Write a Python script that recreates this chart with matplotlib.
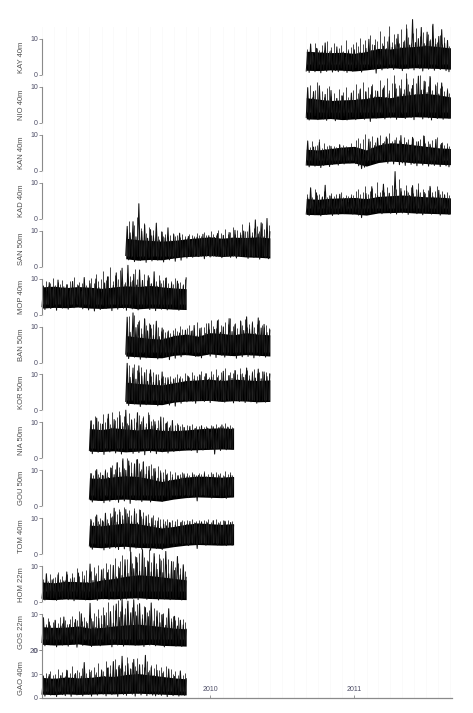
import numpy as np
import pandas as pd
import matplotlib
matplotlib.use("Agg")
import matplotlib.pyplot as plt
import matplotlib.dates as mdates

plt.rcParams["font.family"] = ["Liberation Sans", "DejaVu Sans"]

# station labels, top to bottom
labels = ["KAY 40m", "NIO 40m", "KAN 40m", "KAD 40m", "SAN 50m", "MOP 40m", "BAN 50m",
          "KOR 50m", "NIA 50m", "GOU 50m", "TOM 40m", "HOM 22m", "GOS 22m", "GAO 40m"]

# record periods (start, end)
periods = {
    "KAY 40m": ("2010-09-01", "2011-09-01"), "NIO 40m": ("2010-09-01", "2011-09-01"),
    "KAN 40m": ("2010-09-01", "2011-09-01"), "KAD 40m": ("2010-09-01", "2011-09-01"),
    "SAN 50m": ("2009-06-01", "2010-06-01"), "MOP 40m": ("2008-11-01", "2009-11-01"),
    "BAN 50m": ("2009-06-01", "2010-06-01"), "KOR 50m": ("2009-06-01", "2010-06-01"),
    "NIA 50m": ("2009-03-01", "2010-03-01"), "GOU 50m": ("2009-03-01", "2010-03-01"),
    "TOM 40m": ("2009-03-01", "2010-03-01"), "HOM 22m": ("2008-11-01", "2009-11-01"),
    "GOS 22m": ("2008-11-01", "2009-11-01"), "GAO 40m": ("2008-11-01", "2009-11-01"),
}

kay = [1.1,6.2, 0.7,8.6, 1.4,5.3, 0.9,7.4, 1.8,5.8, 0.6,6.4, 1.3,8.9, 1.0,5.1, 1.6,6.7, 0.8,5.6,
       1.2,7.8, 0.9,5.4, 1.9,6.1, 1.1,4.9, 0.7,6.5, 1.5,5.2, 1.0,7.0, 2.0,5.9, 1.3,6.3, 0.8,5.5,
       2.1,7.4, 1.7,9.9, 2.4,6.8, 1.6,8.2, 0.5,7.1, 2.2,6.5, 1.4,8.0, 2.6,7.3, 1.8,10.6, 2.3,7.7,
       1.5,8.4, 2.7,11.3, 1.9,7.6, 1.2,9.1, 2.4,12.8, 1.7,8.3, 2.1,15.4, 1.4,9.0, 2.5,10.1, 1.8,13.2,
       1.1,8.7, 2.3,11.9, 1.6,9.4, 2.0,14.1, 1.3,8.5, 2.6,10.7, 1.5,12.6, 1.9,8.8, 1.2,9.6, 0.9,7.2]
nio = [1.5,9.8, 0.8,6.4, 1.2,8.7, 2.0,6.0, 0.9,10.3, 1.6,5.7, 1.1,7.9, 0.7,6.2, 1.8,9.0, 1.3,5.4,
       0.6,6.8, 1.4,5.1, 1.0,7.5, 1.9,5.6, 0.8,6.0, 1.2,8.3, 1.7,5.9, 0.9,6.6, 1.5,9.2, 2.2,6.4,
       1.0,8.6, 1.8,6.9, 0.4,10.1, 2.1,7.2, 1.3,8.8, 1.7,6.5, 2.4,9.7, 1.1,7.0, 1.9,8.1, 1.4,6.7,
       2.2,10.8, 1.0,7.4, 1.6,9.5, 2.5,8.0, 1.2,12.2, 2.0,8.6, 1.5,10.4, 0.9,7.8, 2.3,13.0, 1.7,9.1,
       1.1,11.6, 2.0,8.4, 1.4,12.9, 0.8,7.5, 1.9,10.2, 1.2,8.0, 2.2,11.1, 1.0,7.3, 1.6,9.0, 1.3,6.8]
kan = [1.6,8.3, 1.1,5.2, 2.0,6.6, 1.3,4.8, 1.7,7.9, 0.9,5.0, 1.5,5.9, 2.1,4.7, 1.2,6.8, 1.8,5.3,
       2.3,5.6, 1.6,7.2, 2.5,5.8, 1.9,6.1, 2.6,5.5, 2.2,6.4, 2.8,5.9, 2.0,6.2, 1.4,5.0, 0.6,4.6,
       1.0,5.4, 2.4,8.8, 1.8,6.3, 2.9,7.0, 2.3,9.1, 3.0,6.8, 2.5,7.6, 3.2,9.4, 2.1,6.9, 2.7,7.3,
       1.9,8.5, 2.6,6.7, 1.7,9.8, 2.2,6.4, 1.5,7.8, 2.4,6.9, 1.8,9.3, 2.0,6.2, 1.4,8.1, 2.3,6.6,
       1.6,9.6, 2.1,6.3, 1.3,7.4, 1.9,6.0, 1.5,8.7, 2.2,5.8, 1.2,7.6, 1.8,5.5, 1.4,6.4, 1.1,5.3]
kad = [1.3,5.8, 0.9,8.6, 1.6,4.7, 1.1,7.2, 1.8,4.4, 0.8,5.9, 1.4,9.3, 1.2,4.6, 1.7,6.3, 0.9,4.9,
       1.5,5.4, 1.2,6.8, 1.9,4.8, 1.4,5.6, 2.1,4.5, 1.6,6.0, 1.3,4.9, 1.8,5.7, 1.0,4.6, 0.3,5.1,
       1.5,7.0, 1.9,5.3, 1.2,8.9, 2.0,5.6, 1.6,6.4, 2.2,5.2, 1.4,9.6, 1.8,5.8, 2.3,7.1, 1.5,5.5,
       2.0,13.1, 1.3,6.2, 1.9,8.4, 1.6,5.9, 2.1,7.7, 1.2,6.5, 1.7,9.2, 2.2,6.0, 1.4,8.0, 1.9,5.7,
       1.1,7.3, 1.6,5.6, 2.0,9.0, 1.3,6.1, 1.8,5.4, 1.5,7.9, 1.0,5.2, 1.7,6.6, 1.4,5.0, 1.2,4.8]
san = [3.1,11.2, 1.9,9.4, 2.6,12.5, 1.4,8.3, 2.8,17.5, 1.7,9.8, 2.3,11.6, 1.2,7.9, 2.5,10.3, 1.6,8.6,
       2.9,12.1, 1.8,7.4, 2.2,9.6, 1.3,8.0, 2.7,10.8, 1.9,7.2, 2.4,8.9, 1.5,6.8, 2.6,9.3, 1.8,7.0,
       3.0,7.6, 2.4,8.4, 3.3,7.1, 2.6,7.9, 3.5,8.2, 2.8,7.3, 3.1,9.0, 2.2,7.5, 3.4,8.6, 2.7,7.8,
       3.6,8.1, 2.9,9.2, 3.2,7.4, 2.5,8.7, 3.7,7.6, 3.0,9.5, 2.6,8.0, 3.3,10.1, 2.4,7.7, 3.1,8.8,
       2.8,9.9, 3.4,7.9, 2.3,11.4, 3.0,8.5, 2.6,13.0, 3.2,9.1, 2.1,12.2, 2.9,8.3, 2.5,13.4, 2.2,9.7]
mop = [2.2,7.8, 1.4,6.5, 2.8,8.9, 1.7,6.9, 2.5,7.4, 1.2,9.6, 2.9,6.8, 1.8,7.7, 2.4,8.3, 1.5,6.6,
       2.7,9.2, 1.9,7.1, 3.0,8.0, 2.1,6.4, 1.6,10.3, 2.6,7.3, 1.3,8.6, 2.3,6.9, 1.0,9.9, 2.0,7.5,
       1.4,6.2, 2.5,8.8, 1.7,10.5, 2.2,7.0, 1.1,8.1, 2.8,11.6, 1.5,7.6, 2.4,12.9, 1.8,8.3, 1.2,13.7,
       2.1,9.0, 1.6,11.2, 2.6,8.2, 1.3,12.4, 2.0,9.5, 1.7,7.7, 2.3,10.8, 1.4,8.5, 1.9,11.9, 1.1,7.9,
       2.2,9.4, 1.5,7.2, 2.0,10.1, 1.3,6.8, 1.8,8.6, 1.6,7.0, 2.1,9.3, 1.2,6.5, 1.7,8.0, 1.4,10.2]
ban = [2.3,12.6, 1.1,8.4, 2.7,13.8, 1.5,9.7, 2.0,11.2, 0.9,7.9, 2.5,12.1, 1.3,8.8, 2.1,10.4, 1.7,7.5,
       2.6,11.5, 1.0,7.2, 2.2,9.6, 1.4,6.8, 1.8,8.5, 0.8,6.4, 2.0,7.7, 1.2,6.9, 2.4,8.2, 1.6,7.3,
       2.8,9.0, 2.1,7.6, 3.0,8.7, 2.4,10.3, 1.7,7.4, 2.6,9.5, 1.3,6.9, 2.9,8.1, 2.2,10.8, 1.8,7.8,
       2.5,9.2, 1.4,11.6, 2.7,8.4, 2.0,9.9, 1.5,7.5, 2.3,12.2, 1.9,8.6, 2.8,10.5, 1.2,7.7, 2.4,11.4,
       1.6,8.9, 2.6,12.7, 1.7,9.3, 2.1,11.0, 1.3,8.0, 2.5,12.4, 1.8,9.6, 2.2,10.6, 1.5,8.3, 2.0,9.0]
kor = [2.5,13.1, 1.4,9.2, 2.9,11.8, 1.8,8.7, 2.2,12.4, 1.1,9.6, 2.7,10.5, 1.6,8.1, 2.4,11.3, 1.9,7.8,
       2.8,9.9, 1.3,8.3, 2.1,10.7, 1.7,7.5, 2.6,9.1, 1.5,7.9, 2.3,8.6, 1.2,7.2, 2.7,8.8, 2.0,7.6,
       3.0,8.3, 2.4,9.4, 3.2,7.9, 2.6,8.7, 2.0,7.5, 2.9,9.8, 3.3,8.1, 2.5,10.2, 3.1,8.6, 2.2,9.3,
       2.8,7.8, 3.4,9.1, 2.6,8.4, 3.0,10.9, 2.3,8.0, 3.2,9.7, 2.7,8.9, 2.1,11.1, 3.0,8.5, 2.5,10.0,
       2.9,9.2, 2.2,11.8, 3.1,8.7, 2.4,10.4, 2.8,9.0, 2.0,11.5, 2.6,8.8, 3.0,10.7, 2.3,9.4, 2.7,10.1]
nia = [2.2,10.4, 1.3,8.1, 2.6,11.2, 1.7,7.6, 2.0,9.5, 1.1,7.9, 2.4,12.3, 1.8,8.4, 2.7,10.8, 1.5,7.3,
       2.3,11.9, 1.2,8.8, 2.5,13.4, 1.9,9.1, 2.8,10.6, 1.4,8.2, 2.1,12.7, 1.6,9.4, 2.6,11.1, 1.0,8.6,
       2.4,12.0, 1.7,9.0, 2.9,10.2, 1.3,8.3, 2.2,11.5, 1.8,7.9, 2.6,9.8, 1.5,8.5, 2.3,10.5, 1.9,7.7,
       2.7,9.2, 2.1,7.4, 2.9,8.6, 2.4,7.2, 3.1,8.9, 2.2,7.6, 2.8,8.3, 1.6,7.1, 2.6,9.0, 2.3,7.5,
       3.0,8.4, 2.5,7.3, 3.2,8.8, 1.2,7.0, 2.7,8.5, 2.2,9.3, 3.0,7.8, 2.4,8.7, 2.9,7.6, 2.6,8.2]
gou = [2.0,9.1, 1.2,7.4, 2.5,10.2, 1.6,7.9, 2.2,8.6, 1.0,9.8, 2.7,8.0, 1.4,10.6, 2.3,8.8, 1.8,12.1,
       1.1,9.4, 2.6,13.2, 1.5,10.0, 2.1,12.6, 0.8,9.2, 2.4,11.8, 1.7,13.0, 2.0,9.6, 1.3,12.3, 2.5,8.9,
       1.9,11.1, 1.2,8.4, 2.3,10.5, 1.6,7.8, 2.0,9.3, 1.4,7.5, 2.6,8.7, 1.8,7.2, 2.2,8.0, 2.9,7.6,
       2.5,8.5, 3.1,7.9, 2.7,9.0, 3.3,8.2, 2.4,7.7, 3.0,8.8, 2.6,7.4, 1.5,8.6, 2.8,7.8, 3.2,9.1,
       2.7,8.0, 3.0,7.5, 2.3,8.9, 2.9,7.7, 3.1,8.4, 2.5,7.3, 2.8,8.2, 2.2,7.9, 3.0,8.6, 2.6,7.6]
tom = [2.3,9.7, 1.4,7.8, 2.8,10.9, 1.9,8.2, 2.1,9.3, 1.2,11.4, 2.6,8.5, 1.6,10.1, 2.4,12.8, 1.8,8.9,
       1.3,11.7, 2.7,9.6, 1.5,12.4, 2.2,10.3, 0.9,9.0, 2.5,11.9, 1.7,8.7, 2.0,12.2, 1.4,9.8, 2.6,10.6,
       1.9,8.6, 1.1,10.1, 2.3,8.0, 1.6,9.2, 2.1,7.6, 1.3,8.4, 2.5,7.9, 1.8,8.8, 2.9,7.4, 2.2,8.1,
       2.7,7.7, 3.2,8.9, 2.6,7.5, 3.0,8.3, 2.4,9.1, 3.3,7.8, 2.8,8.6, 1.6,7.6, 2.9,9.0, 3.1,8.2,
       2.5,8.7, 3.0,7.9, 2.7,9.3, 3.2,8.0, 2.6,8.5, 2.9,7.7, 3.1,9.2, 2.4,8.1, 2.8,8.8, 2.5,7.9]
hom = [1.1,5.4, 0.6,7.9, 1.4,4.8, 0.8,6.2, 1.2,4.5, 0.5,7.6, 1.5,5.0, 0.9,5.9, 1.3,8.4, 0.7,4.7,
       1.0,6.8, 0.4,5.2, 1.6,8.1, 0.9,4.9, 1.2,6.4, 0.6,5.5, 1.4,10.6, 0.8,6.0, 1.1,7.3, 0.5,5.7,
       1.3,9.0, 0.9,6.5, 1.7,8.2, 0.7,6.1, 1.5,10.2, 1.0,7.0, 1.8,9.4, 0.6,7.4, 1.4,11.8, 0.9,8.0,
       1.6,13.9, 1.1,9.3, 1.9,12.4, 0.7,8.6, 1.5,14.6, 1.2,9.7, 0.8,11.2, 1.6,8.4, 1.0,13.5, 1.4,9.1,
       0.6,12.0, 1.3,8.2, 0.9,14.1, 1.5,7.9, 0.7,11.3, 1.2,8.8, 0.8,12.7, 1.4,7.6, 0.6,10.4, 1.1,6.9]
gos = [2.1,9.0, 1.2,6.4, 2.5,7.8, 1.5,5.6, 1.9,8.3, 0.9,5.9, 2.3,6.7, 1.4,9.2, 2.0,5.8, 1.1,7.1,
       2.4,6.2, 1.6,8.5, 0.8,5.7, 2.2,10.1, 1.3,6.6, 2.6,7.4, 1.7,13.0, 1.0,7.9, 2.1,6.3, 1.5,8.8,
       1.2,7.2, 2.3,9.6, 1.6,6.8, 2.0,10.7, 0.9,7.5, 2.4,12.8, 1.4,9.1, 1.8,14.2, 1.1,9.8, 2.2,13.6,
       1.5,10.4, 2.0,14.0, 1.3,9.5, 2.5,12.9, 1.7,8.7, 1.0,11.8, 2.1,9.3, 1.4,13.1, 1.8,8.1, 1.2,10.9,
       2.0,7.6, 1.5,9.9, 0.9,6.9, 1.9,11.5, 1.3,7.8, 1.7,9.4, 1.1,6.7, 1.6,8.3, 1.0,7.0, 1.4,5.8]
gao = [1.6,8.9, 0.8,6.4, 2.1,9.8, 1.2,7.0, 1.8,8.2, 0.6,6.7, 2.3,9.3, 1.4,7.4, 1.0,11.6, 1.9,7.8,
       0.7,8.5, 2.2,10.2, 1.3,7.6, 1.7,9.1, 0.9,14.8, 2.0,8.3, 1.5,10.7, 0.8,7.9, 1.9,9.6, 1.2,8.0,
       2.4,11.4, 1.6,9.0, 0.9,12.5, 2.1,10.1, 1.4,15.2, 1.8,11.8, 0.7,13.6, 2.2,17.4, 1.5,10.9, 1.1,14.3,
       2.0,12.0, 1.6,16.1, 0.8,11.2, 1.9,13.9, 1.3,9.8, 2.3,17.8, 1.0,10.6, 1.7,12.7, 1.2,9.4, 0.9,11.5,
       1.5,8.7, 1.1,10.3, 1.8,7.9, 0.6,12.1, 1.4,8.2, 1.0,9.0, 1.6,7.1, 0.8,11.3, 1.3,7.5, 1.1,8.1]

# further gust peaks between the samples above
kay_g = [7.2,8.1,6.5,9.0,7.6,6.8,8.4,7.0,9.3,6.6,7.9,8.8,6.9,7.4,8.2,6.7,9.6,7.1,7.8,8.5,
         9.2,8.0,10.4,8.6,9.8,7.9,11.2,8.7,10.1,9.4,12.3,8.9,10.8,9.5,13.6,9.1,11.4,10.2,8.8,12.9,
         9.7,14.2,10.5,9.0,11.8,13.1,9.6,10.9,12.0,8.4,11.5,9.9,13.8,10.3,9.2,11.0,8.6,10.6,9.1,8.0]
nio_g = [8.4,10.6,7.2,9.1,11.3,7.8,8.9,7.1,9.7,10.2,7.5,8.3,6.9,9.4,7.7,8.6,10.0,7.3,8.0,9.2,
         10.9,8.4,9.6,11.5,8.8,9.9,7.9,10.7,9.1,8.5,11.9,9.3,10.4,12.6,9.0,11.1,13.4,9.8,10.5,12.1,
         9.4,13.8,10.8,9.7,12.4,11.0,10.1,13.2,9.5,11.7,10.3,12.8,9.2,10.9,11.4,9.6,10.2,8.9,9.8,8.3]
kan_g = [7.4,6.5,8.2,6.9,7.1,8.8,6.4,7.6,6.8,7.3,6.2,7.0,6.7,7.5,6.6,7.2,6.9,6.3,7.8,6.5,
         8.5,9.2,7.6,8.9,10.1,7.9,8.4,9.6,8.1,8.7,9.9,7.8,8.3,9.0,10.4,8.2,7.7,9.3,8.6,8.0,
         9.5,7.9,8.8,7.4,9.1,8.3,7.6,8.9,10.0,7.8,8.2,7.3,8.6,7.7,9.4,7.5,8.1,7.2,7.6,6.9]
kad_g = [6.8,7.4,6.1,8.2,6.5,7.0,6.3,7.7,6.0,6.6,7.1,6.2,6.9,6.4,7.3,6.1,6.7,6.3,7.0,6.5,
         7.6,8.4,6.9,7.3,9.1,7.0,7.8,8.6,7.2,10.2,7.5,8.1,7.4,8.9,7.1,9.5,7.7,8.3,11.0,7.6,
         8.0,9.3,7.4,8.7,7.2,8.2,9.8,7.5,8.4,7.1,7.9,8.8,7.3,7.7,9.0,7.0,7.6,6.8,7.4,6.6]
san_g = [10.4,12.8,9.6,11.5,13.9,9.9,10.8,12.2,9.3,11.0,8.8,10.1,9.5,8.6,9.9,8.4,9.1,8.2,8.8,9.4,
         8.5,8.9,8.3,9.2,8.6,8.1,9.0,8.7,8.4,9.3,8.8,8.5,9.6,8.9,8.3,9.8,9.1,8.7,10.2,9.4,
         8.9,10.6,9.2,9.7,11.1,9.0,10.3,9.5,11.8,9.8,10.0,12.4,9.6,10.7,11.3,9.9,12.0,10.4,9.7,11.5]
mop_g = [8.3,9.4,7.9,8.8,10.1,8.1,9.0,8.5,9.7,7.8,8.6,9.2,8.0,10.5,8.4,9.1,8.7,9.9,8.2,9.5,
         10.2,8.9,11.4,9.3,10.0,12.1,9.6,10.8,13.2,9.4,11.0,9.9,12.5,10.3,9.1,11.7,10.6,9.5,12.8,9.8,
         10.9,9.2,11.3,9.7,10.4,8.8,10.0,9.3,11.1,8.9,9.6,10.5,8.7,9.4,8.5,10.2,8.9,9.1,8.6,9.8]
ban_g = [11.4,12.9,10.2,13.3,10.8,11.9,9.7,12.5,10.4,11.1,9.5,10.6,9.1,9.8,8.7,9.4,8.5,9.0,8.3,8.9,
         9.6,8.8,10.1,9.2,8.6,9.7,10.4,9.0,9.5,11.2,9.3,10.0,9.8,10.9,9.4,11.7,10.2,9.6,12.0,10.5,
         9.9,11.3,10.7,12.4,10.1,11.0,9.7,11.8,10.4,12.2,10.0,10.8,11.5,9.8,10.6,11.9,10.3,9.9,10.5,9.6]
kor_g = [11.9,12.6,10.4,13.0,11.2,10.7,12.1,9.9,11.5,10.3,9.6,10.8,9.4,10.1,8.9,9.7,9.2,8.8,9.5,9.0,
         9.3,10.0,9.6,9.1,10.4,9.8,9.4,10.7,9.9,9.5,10.2,11.0,9.7,10.5,9.3,10.9,10.1,11.4,9.8,10.6,
         10.3,11.7,9.9,10.8,10.4,11.2,10.0,11.9,10.5,10.2,11.3,9.8,10.9,11.6,10.4,10.7,11.0,10.1,10.6,10.3]
nia_g = [10.7,9.6,11.8,10.3,9.9,12.4,10.1,11.2,9.5,12.9,10.6,11.5,13.3,10.2,11.9,9.8,12.6,10.9,11.3,10.0,
         12.1,10.5,11.7,9.7,12.8,10.4,11.0,9.6,10.8,10.1,11.4,9.9,10.3,9.4,10.6,9.2,9.8,8.9,9.5,8.7,
         9.3,8.8,9.6,8.5,9.1,8.9,9.4,8.6,9.0,8.4,9.3,8.8,9.5,8.6,9.1,8.9,9.7,8.7,9.2,8.8]
gou_g = [9.3,8.7,10.2,9.0,9.6,8.8,10.5,9.4,10.9,11.6,10.3,12.2,11.0,12.9,10.7,13.4,11.5,12.4,10.8,13.1,
         11.9,10.4,12.7,11.2,10.1,11.8,10.6,9.9,11.3,10.0,9.5,10.4,9.2,9.8,8.9,9.4,8.7,9.1,9.6,8.8,
         9.3,8.6,9.5,9.0,8.7,9.2,8.9,9.7,8.5,9.1,9.4,8.8,9.6,8.9,9.3,8.7,9.8,9.0,9.4,8.8]
tom_g = [9.6,9.0,10.5,9.3,10.1,9.2,11.0,9.7,11.4,10.6,12.0,11.3,12.7,10.9,13.0,11.6,12.3,10.8,12.9,11.4,
         12.5,10.7,11.8,10.3,11.2,10.0,10.8,9.6,10.4,9.8,9.9,9.3,9.7,9.0,9.5,9.2,9.8,8.9,9.6,9.1,
         9.4,8.8,9.7,9.0,9.3,9.6,8.9,9.5,9.2,9.8,9.0,9.4,9.7,8.9,9.3,9.6,9.1,9.5,8.9,9.2]
hom_g = [6.4,7.2,6.0,7.8,6.6,7.0,8.3,6.5,7.4,6.2,7.7,6.8,8.0,7.1,9.4,7.3,8.6,7.5,9.0,7.8,
         8.7,9.8,8.2,10.4,8.9,9.5,11.0,9.1,10.7,9.6,12.3,10.1,11.5,13.2,10.4,12.0,14.4,10.9,12.7,11.3,
         13.8,10.6,12.5,11.8,14.9,11.1,12.9,10.8,13.5,11.6,12.2,10.5,11.9,10.2,11.4,9.8,10.9,9.4,10.1,8.6]
gos_g = [8.1,7.3,8.9,7.0,7.8,8.5,7.4,9.1,7.6,8.3,7.2,8.7,9.6,7.9,8.4,11.0,8.2,9.3,8.0,9.8,
         8.8,10.2,9.4,11.3,9.7,12.1,10.5,13.4,10.0,12.6,11.2,13.8,10.8,12.3,11.6,13.0,10.4,11.9,10.9,12.7,
         11.4,10.1,12.2,10.6,11.1,9.8,11.7,9.5,10.7,9.9,10.3,9.2,10.0,8.8,9.6,8.5,9.1,8.3,8.7,7.9]
gao_g = [9.4,10.6,9.0,11.2,9.7,10.1,12.3,9.5,10.8,9.2,11.5,10.3,13.4,10.0,11.8,10.7,12.6,11.0,10.4,12.0,
         11.6,13.1,10.9,14.5,12.2,11.4,15.6,12.8,13.7,11.9,16.4,13.2,12.5,14.8,13.9,17.1,12.7,15.0,13.5,16.8,
         12.1,14.2,13.0,15.4,11.8,13.6,12.4,14.0,11.5,12.9,11.1,13.3,10.6,12.0,10.2,11.4,9.8,10.9,9.5,10.3]

# dense core of each record (monthly lower / upper edge)
kay_lo = [1.3, 1.2, 1.4, 1.3, 1.1, 1.4, 1.8, 2.0, 1.8, 2.0, 1.9, 1.8, 1.6]
kay_hi = [6.6, 6.4, 6.2, 6.3, 6.0, 6.5, 7.4, 7.2, 7.7, 7.9, 8.2, 7.9, 7.5]
nio_lo = [1.1, 1.0, 1.2, 0.9, 1.1, 1.3, 1.4, 1.6, 1.5, 1.7, 1.6, 1.4, 1.3]
nio_hi = [7.0, 6.6, 6.2, 6.4, 6.5, 6.8, 7.4, 7.0, 7.6, 8.0, 8.2, 7.8, 7.2]
kan_lo = [1.6, 1.5, 1.8, 2.1, 2.2, 1.3, 2.3, 2.7, 2.5, 2.2, 2.0, 1.8, 1.7]
kan_hi = [6.0, 5.8, 6.2, 6.6, 6.8, 5.8, 7.2, 7.8, 7.6, 7.2, 6.8, 6.4, 6.2]
kad_lo = [1.2, 1.1, 1.3, 1.4, 1.3, 1.0, 1.6, 1.7, 1.8, 1.6, 1.5, 1.4, 1.3]
kad_hi = [5.6, 5.4, 5.7, 5.8, 5.9, 5.6, 6.2, 6.4, 6.6, 6.3, 6.1, 6.0, 5.8]
san_lo = [2.2, 1.8, 2.0, 1.9, 2.4, 2.8, 2.9, 3.1, 2.8, 3.0, 2.7, 2.6, 2.4]
san_hi = [7.9, 7.5, 7.3, 7.1, 7.3, 7.7, 8.0, 8.3, 7.9, 8.2, 8.1, 8.3, 8.0]
mop_lo = [1.8, 2.0, 1.9, 2.1, 1.8, 1.7, 1.9, 2.0, 1.6, 1.8, 1.7, 1.5, 1.4]
mop_hi = [7.7, 7.9, 7.5, 7.8, 7.6, 7.3, 7.7, 8.0, 7.8, 8.1, 7.7, 7.4, 7.2]
ban_lo = [1.8, 1.6, 1.4, 1.3, 2.0, 2.2, 1.8, 2.4, 2.1, 1.9, 2.2, 2.0, 1.8]
ban_hi = [7.5, 7.1, 6.7, 6.5, 7.5, 7.9, 7.3, 8.3, 8.1, 7.7, 8.3, 7.9, 7.7]
kor_lo = [2.0, 1.8, 1.7, 1.6, 2.3, 2.6, 2.7, 2.8, 2.5, 2.7, 2.6, 2.4, 2.5]
kor_hi = [7.9, 7.5, 7.3, 7.1, 7.7, 8.3, 8.5, 8.7, 8.3, 8.7, 8.5, 8.3, 8.5]
nia_lo = [2.0, 1.9, 2.1, 1.8, 2.0, 2.2, 1.9, 2.1, 2.3, 2.4, 2.5, 2.6, 2.5]
nia_hi = [8.3, 8.0, 8.5, 8.2, 7.9, 8.3, 7.8, 7.7, 7.9, 8.2, 8.4, 8.5, 8.3]
gou_lo = [1.8, 1.6, 1.9, 2.0, 1.8, 1.7, 1.4, 2.0, 2.4, 2.6, 2.5, 2.4, 2.6]
gou_hi = [7.9, 7.7, 8.2, 8.5, 8.3, 7.7, 6.9, 7.5, 8.1, 8.4, 8.3, 8.1, 8.3]
tom_lo = [2.0, 1.8, 2.1, 2.2, 1.9, 1.8, 1.6, 2.1, 2.5, 2.7, 2.6, 2.5, 2.6]
tom_hi = [8.1, 7.9, 8.3, 8.7, 8.5, 7.9, 7.3, 7.7, 8.3, 8.7, 8.5, 8.3, 8.5]
hom_lo = [0.8, 0.7, 0.9, 0.8, 0.7, 1.0, 0.9, 1.1, 1.2, 1.0, 0.9, 0.8, 0.7]
hom_hi = [5.6, 5.4, 5.8, 5.7, 5.5, 6.2, 6.6, 7.2, 7.6, 7.4, 7.0, 6.6, 6.2]
gos_lo = [1.6, 1.4, 1.5, 1.7, 1.3, 1.4, 1.6, 1.5, 1.4, 1.6, 1.3, 1.2, 1.1]
gos_hi = [6.5, 6.3, 6.4, 6.7, 6.1, 6.3, 6.7, 7.0, 7.2, 6.9, 6.5, 6.1, 5.9]
gao_lo = [1.6, 1.4, 1.7, 1.5, 1.6, 1.8, 1.7, 1.9, 2.0, 1.8, 1.6, 1.4, 1.3]
gao_hi = [8.6, 8.2, 8.8, 8.4, 8.6, 9.2, 9.0, 9.8, 10.2, 9.6, 9.0, 8.4, 8.0]

series = [kay, nio, kan, kad, san, mop, ban, kor, nia, gou, tom, hom, gos, gao]
gusts = [kay_g, nio_g, kan_g, kad_g, san_g, mop_g, ban_g, kor_g, nia_g, gou_g, tom_g,
         hom_g, gos_g, gao_g]
cores_lo = [kay_lo, nio_lo, kan_lo, kad_lo, san_lo, mop_lo, ban_lo, kor_lo, nia_lo, gou_lo,
            tom_lo, hom_lo, gos_lo, gao_lo]
cores_hi = [kay_hi, nio_hi, kan_hi, kad_hi, san_hi, mop_hi, ban_hi, kor_hi, nia_hi, gou_hi,
            tom_hi, hom_hi, gos_hi, gao_hi]

W, H = 473, 713
fig = plt.figure(figsize=(W / 100, H / 100), dpi=100)

xmin, xmax = pd.Timestamp("2008-11-01"), pd.Timestamp("2011-09-05")
grid_days = pd.date_range("2008-11-01", "2011-09-01", freq="MS")

n = len(labels)
panel_h = (698 - 27) / n
axis_col = "#8a8a8a"
txt_col = "#4d4d66"

for i, name in enumerate(labels):
    last = i == n - 1
    bottom = (H - 698 + (n - 1 - i) * panel_h) / H
    ax = fig.add_axes([42 / W, bottom, 410 / W, panel_h / H])
    ax.patch.set_visible(False)
    ax.set_xlim(xmin, xmax)
    ax.set_ylim(0, 20 if last else 13.33)

    for g in grid_days:
        ax.axvline(g, color="#f8f8f8", lw=0.5, zorder=0)

    t0, t1 = periods[name]
    x = pd.date_range(t0, t1, periods=len(series[i]))
    xg = pd.date_range(pd.Timestamp(t0) + pd.Timedelta(days=3), pd.Timestamp(t1) - pd.Timedelta(days=3),
                       periods=len(gusts[i]))
    xc = pd.date_range(t0, t1, periods=len(cores_lo[i]))
    ax.vlines(xg, 3, gusts[i], color="#2a2a2a", lw=0.6, clip_on=False)
    ax.fill_between(xc, cores_lo[i], cores_hi[i], color="black", lw=0, clip_on=False)
    ax.plot(x, series[i], color="#111111", lw=0.75, clip_on=False)

    for s in ["top", "right"]:
        ax.spines[s].set_visible(False)
    ax.spines["left"].set_color(axis_col)
    ax.spines["left"].set_linewidth(0.8)
    top_tick = 20 if last else 10
    ax.spines["left"].set_bounds(0, top_tick)
    ax.set_yticks([0, 10, 20] if last else [0, 10])
    ax.tick_params(axis="y", length=2, width=0.6, color=axis_col, pad=1,
                   labelsize=5, labelcolor=txt_col)
    ax.text(-0.05, 0.42 if last else 0.375, name, transform=ax.transAxes, rotation=90,
            ha="center", va="center", fontsize=5.5, color="#505050")

    if last:
        ax.spines["bottom"].set_color(axis_col)
        ax.spines["bottom"].set_linewidth(0.9)
        ax.set_xticks([pd.Timestamp("2010-01-01"), pd.Timestamp("2011-01-01")])
        ax.xaxis.set_major_formatter(mdates.DateFormatter("%Y"))
        ax.tick_params(axis="x", direction="in", length=2, width=0.6, color=axis_col,
                       pad=-8.5, labelsize=5, labelcolor=txt_col)
    else:
        ax.spines["bottom"].set_visible(False)
        ax.set_xticks([])

fig.savefig("out.png", dpi=100)
